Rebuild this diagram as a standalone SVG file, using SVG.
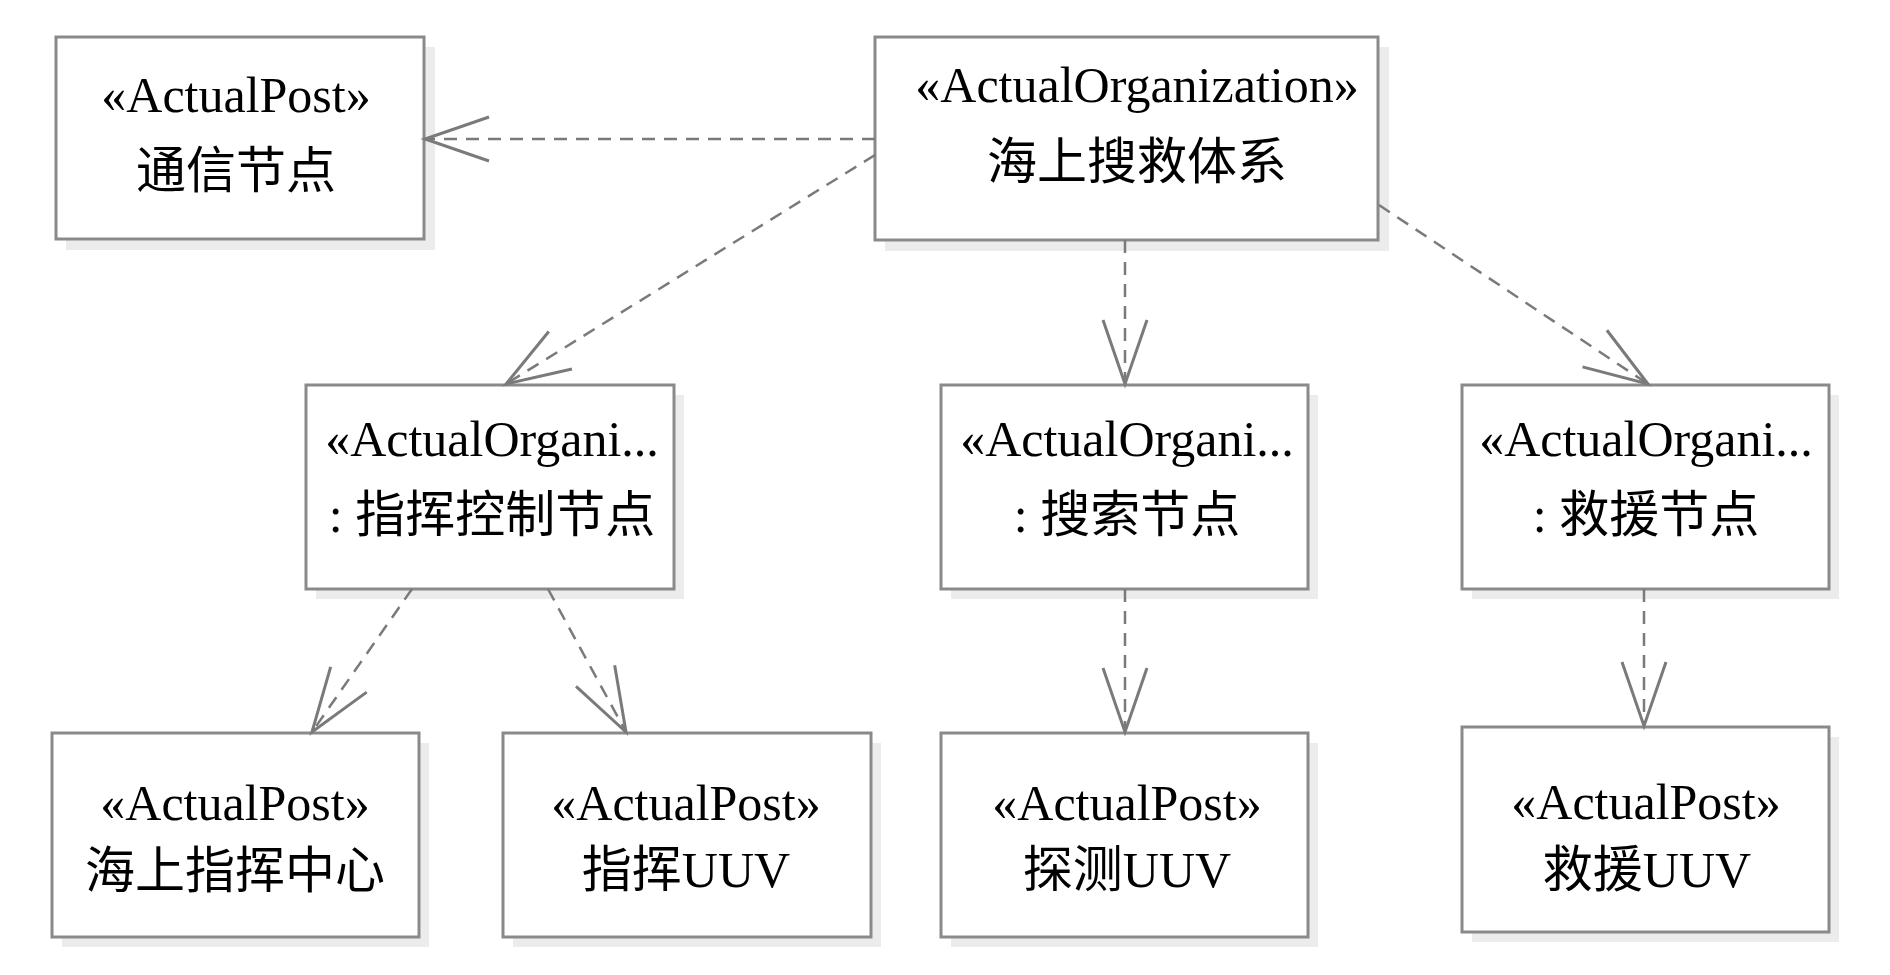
<svg xmlns="http://www.w3.org/2000/svg" width="1890" height="975" viewBox="0 0 1890 975">
<style>
  .shadow { fill: #ececec; stroke: none; }
  .box { fill: #ffffff; stroke: #8a8a8a; stroke-width: 3; }
  .t { font-family: "Liberation Serif", "Noto Sans CJK SC", serif; font-size: 50px; fill: #000; text-anchor: middle; }
  .dep { fill: none; stroke: #7a7a7a; stroke-width: 2.5; stroke-dasharray: 13 9; marker-end: url(#open); }
</style>
<defs>
  <marker id="open" markerUnits="userSpaceOnUse" viewBox="-70 -30 80 60" refX="0" refY="0" markerWidth="80" markerHeight="60" orient="auto" overflow="visible">
    <path d="M-64,-22 L0,0 L-64,22" fill="none" stroke="#7a7a7a" stroke-width="3" stroke-linejoin="miter"/>
  </marker>
</defs>
<rect width="1890" height="975" fill="#ffffff"/>

<g id="node-comm">
  <rect class="shadow" x="66" y="47" width="369" height="203"/>
  <rect class="box" x="56" y="37" width="368" height="202"/>
  <text class="t" x="236" y="112">«ActualPost»</text>
  <text class="t" x="236" y="188">通信节点</text>
</g>
<g id="node-system">
  <rect class="shadow" x="885" y="47" width="504" height="204"/>
  <rect class="box" x="875" y="37" width="503" height="203"/>
  <text class="t" x="1137" y="102">«ActualOrganization»</text>
  <text class="t" x="1137" y="179">海上搜救体系</text>
</g>
<g id="node-command">
  <rect class="shadow" x="316" y="395" width="368" height="204"/>
  <rect class="box" x="306" y="385" width="368" height="204"/>
  <text class="t" x="492" y="456">«ActualOrgani...</text>
  <text class="t" x="492" y="532">: 指挥控制节点</text>
</g>
<g id="node-search">
  <rect class="shadow" x="951" y="395" width="367" height="204"/>
  <rect class="box" x="941" y="385" width="367" height="204"/>
  <text class="t" x="1127" y="456">«ActualOrgani...</text>
  <text class="t" x="1127" y="532">: 搜索节点</text>
</g>
<g id="node-rescue">
  <rect class="shadow" x="1472" y="395" width="367" height="204"/>
  <rect class="box" x="1462" y="385" width="367" height="204"/>
  <text class="t" x="1646" y="456">«ActualOrgani...</text>
  <text class="t" x="1646" y="532">: 救援节点</text>
</g>
<g id="node-center">
  <rect class="shadow" x="62" y="743" width="367" height="204"/>
  <rect class="box" x="52" y="733" width="367" height="204"/>
  <text class="t" x="235" y="820">«ActualPost»</text>
  <text class="t" x="235" y="888">海上指挥中心</text>
</g>
<g id="node-cmd-uuv">
  <rect class="shadow" x="513" y="743" width="368" height="204"/>
  <rect class="box" x="503" y="733" width="368" height="204"/>
  <text class="t" x="686" y="820">«ActualPost»</text>
  <text class="t" x="686" y="887">指挥UUV</text>
</g>
<g id="node-detect-uuv">
  <rect class="shadow" x="951" y="743" width="367" height="204"/>
  <rect class="box" x="941" y="733" width="367" height="204"/>
  <text class="t" x="1127" y="820">«ActualPost»</text>
  <text class="t" x="1127" y="887">探测UUV</text>
</g>
<g id="node-rescue-uuv">
  <rect class="shadow" x="1472" y="737" width="367" height="205"/>
  <rect class="box" x="1462" y="727" width="367" height="205"/>
  <text class="t" x="1646" y="819">«ActualPost»</text>
  <text class="t" x="1647" y="887">救援UUV</text>
</g>

<g id="connectors">
  <line class="dep" x1="875" y1="139" x2="425" y2="139" stroke-width="3"/>
  <line class="dep" x1="875" y1="155" x2="506" y2="384"/>
  <line class="dep" x1="1125" y1="240" x2="1125" y2="384"/>
  <line class="dep" x1="1379" y1="205" x2="1648" y2="384"/>
  <line class="dep" x1="412" y1="589" x2="312" y2="732"/>
  <line class="dep" x1="548" y1="589" x2="626" y2="732"/>
  <line class="dep" x1="1125" y1="589" x2="1125" y2="732"/>
  <line class="dep" x1="1644" y1="589" x2="1644" y2="726"/>
</g>
</svg>
